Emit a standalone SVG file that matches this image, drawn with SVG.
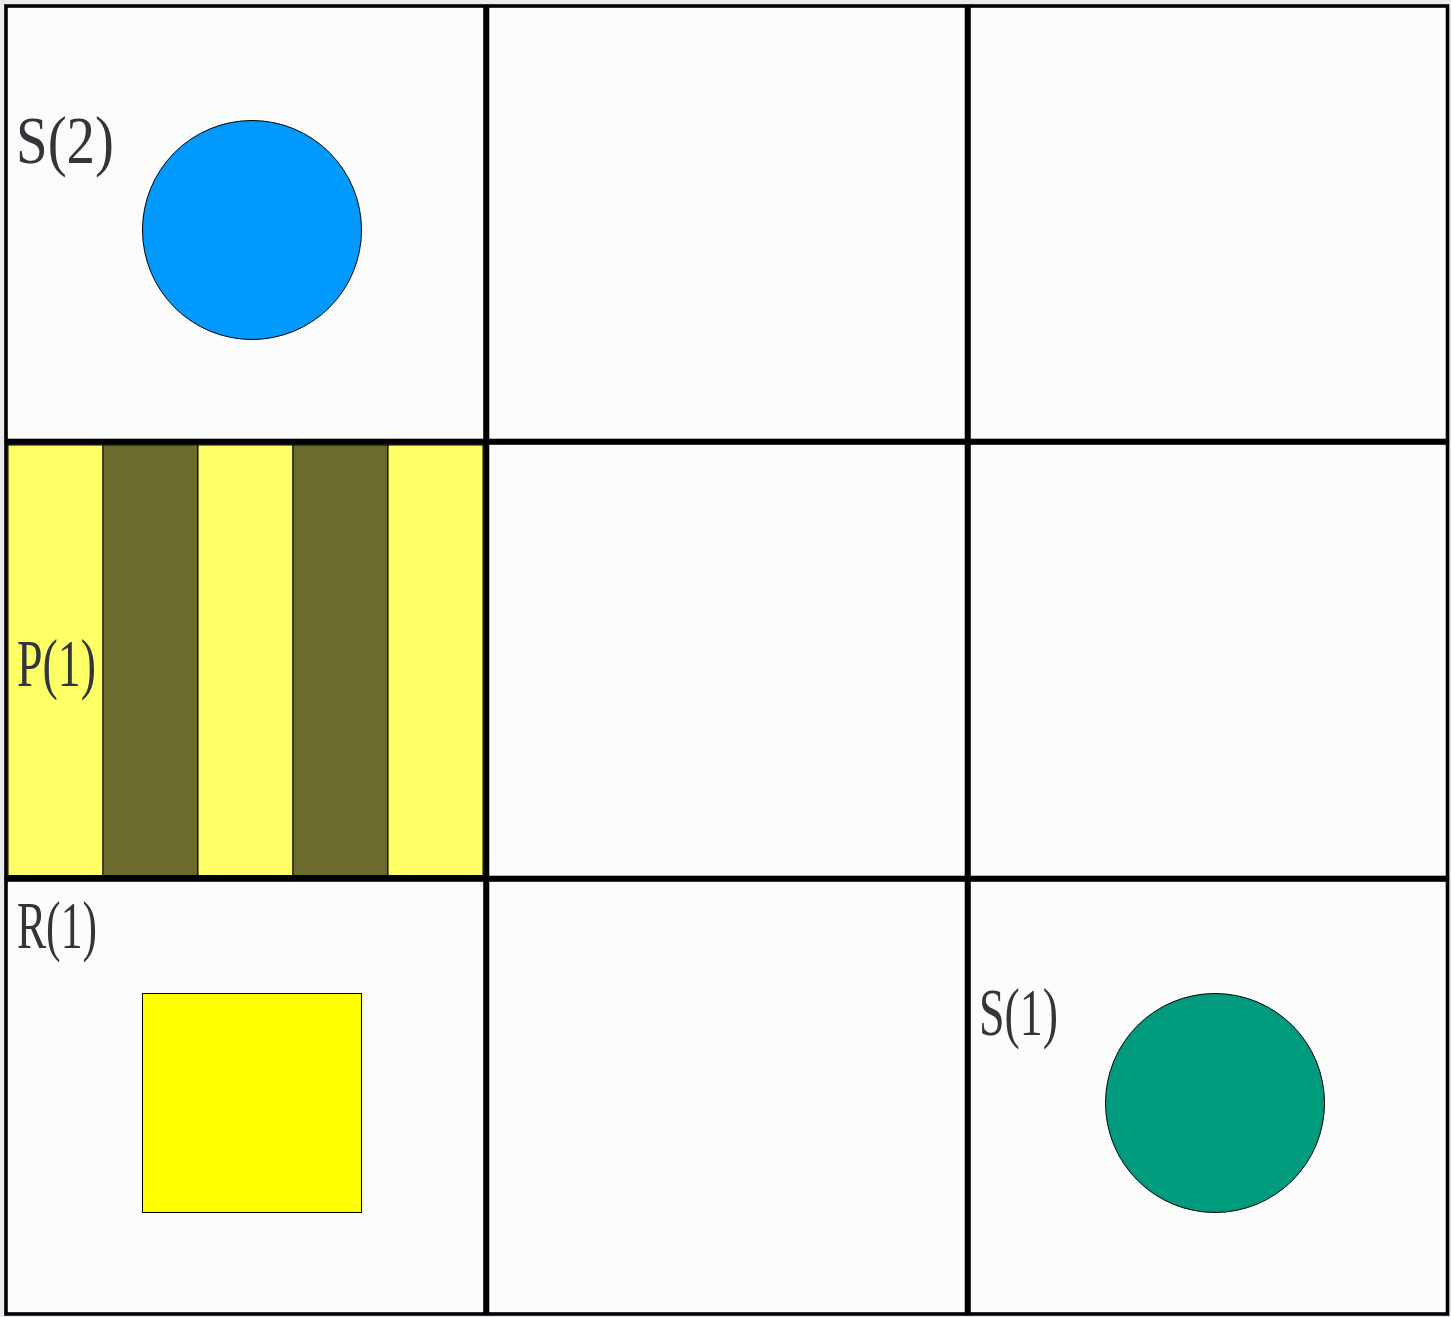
<svg xmlns="http://www.w3.org/2000/svg" width="1451" height="1317" viewBox="0 0 1451 1317">
<style>
.cell{fill:#fcfcfc;stroke:#000;stroke-width:3.6}
.lbl{font-family:"Liberation Serif",serif;font-size:68px;fill:#31363b}
.yl{fill:#ffff66;stroke:#000;stroke-width:1}
.dk{fill:#6b6b2e;stroke:#000;stroke-width:1}
</style>
<rect width="1451" height="1317" fill="#e9e9ee"/>
<g id="grid">
<rect class="cell" x="6" y="6" width="479" height="434.5"/>
<rect class="cell" x="487.5" y="6" width="479" height="434.5"/>
<rect class="cell" x="969" y="6" width="478.5" height="434.5"/>
<rect class="cell" x="6" y="443" width="479" height="434.5"/>
<rect class="cell" x="487.5" y="443" width="479" height="434.5"/>
<rect class="cell" x="969" y="443" width="478.5" height="434.5"/>
<rect class="cell" x="6" y="880" width="479" height="434"/>
<rect class="cell" x="487.5" y="880" width="479" height="434"/>
<rect class="cell" x="969" y="880" width="478.5" height="434"/>
</g>
<g id="cell-S2">
<circle cx="252" cy="230" r="109.5" fill="#0099ff" stroke="#000" stroke-width="1"/>
<text class="lbl" x="16" y="163" textLength="98" lengthAdjust="spacingAndGlyphs">S(2)</text>
</g>
<g id="cell-P1">
<rect class="yl" x="8" y="445" width="95" height="430.5"/>
<rect class="dk" x="103" y="445" width="95" height="430.5"/>
<rect class="yl" x="198" y="445" width="95" height="430.5"/>
<rect class="dk" x="293" y="445" width="95" height="430.5"/>
<rect class="yl" x="388" y="445" width="95" height="430.5"/>
<text class="lbl" x="17" y="686" textLength="79" lengthAdjust="spacingAndGlyphs">P(1)</text>
</g>
<g id="cell-R1">
<rect x="142.5" y="993.5" width="219" height="219" fill="#ffff00" stroke="#000" stroke-width="1"/>
<text class="lbl" x="17" y="948" textLength="80" lengthAdjust="spacingAndGlyphs">R(1)</text>
</g>
<g id="cell-S1">
<circle cx="1215" cy="1103" r="109.5" fill="#009a7c" stroke="#000" stroke-width="1"/>
<text class="lbl" x="979" y="1035" textLength="79" lengthAdjust="spacingAndGlyphs">S(1)</text>
</g>
<g id="connectors"></g>
</svg>
